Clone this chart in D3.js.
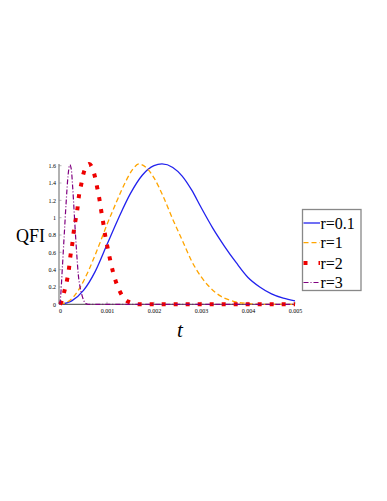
<!DOCTYPE html>
<html>
<head>
<meta charset="utf-8">
<script src="https://cdn.jsdelivr.net/npm/d3@7"></script>
<style>
  body { margin: 0; background: #fff; }
  svg { display: block; }
  text { font-family: "Liberation Serif", "Times New Roman", serif; fill: #000; }
</style>
</head>
<body>
<svg id="chart" width="387" height="501"></svg>
<script>
// t in units of 1e-3, QFI
var tR01 = [0, 0.25, 0.5, 0.75, 1.0, 1.25, 1.5, 1.75, 2.0, 2.17, 2.4, 2.6, 2.8, 3.0, 3.25, 3.5, 3.75, 4.0, 4.25, 4.5, 4.75, 5.0];
var qR01 = [0, 0.04, 0.16, 0.38, 0.69, 1.0, 1.28, 1.49, 1.60, 1.62, 1.58, 1.48, 1.32, 1.12, 0.88, 0.67, 0.48, 0.31, 0.20, 0.12, 0.07, 0.04];

var tR1 = [0, 0.2, 0.4, 0.6, 0.8, 1.0, 1.2, 1.4, 1.55, 1.68, 1.85, 2.0, 2.2, 2.4, 2.6, 2.8, 3.0, 3.2, 3.4, 3.6, 3.8, 4.0, 4.2, 5.0];
var qR1 = [0, 0.04, 0.17, 0.38, 0.64, 0.92, 1.18, 1.42, 1.56, 1.62, 1.57, 1.46, 1.24, 0.98, 0.74, 0.50, 0.32, 0.19, 0.10, 0.05, 0.02, 0.01, 0, 0];

var tR2 = [0, 0.04, 0.09, 0.15, 0.19, 0.22, 0.26, 0.29, 0.33, 0.37, 0.40, 0.45, 0.50, 0.56, 0.62, 0.69, 0.74, 0.79, 0.84, 0.88, 0.92, 0.96, 1.01, 1.06, 1.12, 1.19, 1.29, 1.45, 1.7, 5.0];
var qR2 = [0, 0.04, 0.145, 0.28, 0.41, 0.55, 0.69, 0.83, 0.97, 1.10, 1.24, 1.38, 1.51, 1.59, 1.62, 1.57, 1.48, 1.35, 1.21, 1.07, 0.94, 0.80, 0.66, 0.53, 0.39, 0.26, 0.13, 0.03, 0, 0];

var tR3 = [0, 0.015, 0.05, 0.09, 0.13, 0.17, 0.21, 0.24, 0.27, 0.30, 0.33, 0.36, 0.39, 0.43, 0.46, 0.5, 0.55, 0.6, 5.0];
var qR3 = [0, 0.1, 0.42, 0.80, 1.17, 1.48, 1.61, 1.56, 1.35, 1.08, 0.80, 0.55, 0.34, 0.19, 0.12, 0.05, 0.01, 0, 0];

var xTicks = [0, 0.001, 0.002, 0.003, 0.004, 0.005];
var yTicks = [0, 0.2, 0.4, 0.6, 0.8, 1, 1.2, 1.4, 1.6];
var labels = ['r=0.1', 'r=1', 'r=2', 'r=3'];

var series = [
    { name: labels[0], t: tR01, q: qR01, color: '#2222ee', width: 1.3, dash: null, cap: 'butt' },
    { name: labels[1], t: tR1, q: qR1, color: '#ffa500', width: 1.3, dash: '5,3', cap: 'butt' },
    { name: labels[2], t: tR2, q: qR2, color: '#ee0000', width: 4, dash: '4,8', cap: 'butt' },
    { name: labels[3], t: tR3, q: qR3, color: '#800080', width: 1.2, dash: '5,2,1,2', cap: 'butt' }
];

var svg = d3.select('#chart');

var x = d3.scaleLinear().domain([0, 0.005]).range([60, 295]);
var y = d3.scaleLinear().domain([0, 1.6]).range([304.3, 165.7]);

// axes, drawn Mathematica-like: thin gray lines, small inward ticks
var xAxis = d3.axisBottom(x).tickValues(xTicks).tickSize(0).tickPadding(4)
    .tickFormat(function(d) { return d === 0 ? '0' : d3.format('.3f')(d); });
var yAxis = d3.axisLeft(y).tickValues(yTicks).tickSize(0).tickPadding(4)
    .tickFormat(function(d) { return String(d); });

var gx = svg.append('g')
    .attr('transform', 'translate(0,' + y(0) + ')')
    .call(xAxis);
var gy = svg.append('g')
    .attr('transform', 'translate(' + x(0) + ',0)')
    .call(yAxis);

[gx, gy].forEach(function(g) {
    g.select('.domain').remove();
    g.selectAll('text')
        .style('font-family', '"Liberation Serif", serif')
        .style('font-size', '6px')
        .attr('fill', '#000');
});

svg.append('line')
    .attr('x1', x(0) - 1).attr('x2', x(0) - 1)
    .attr('y1', y(1.62)).attr('y2', y(0))
    .attr('stroke', '#888').attr('stroke-width', 1.3);
svg.append('line')
    .attr('x1', x(0) - 1).attr('x2', x(0.005))
    .attr('y1', y(0)).attr('y2', y(0))
    .attr('stroke', '#666').attr('stroke-width', 1.3);

svg.append('g').selectAll('line').data(xTicks).join('line')
    .attr('x1', function(d) { return x(d); }).attr('x2', function(d) { return x(d); })
    .attr('y1', y(0)).attr('y2', y(0) - 2.5)
    .attr('stroke', '#888').attr('stroke-width', 0.6);
svg.append('g').selectAll('line').data(yTicks).join('line')
    .attr('x1', x(0) - 1).attr('x2', x(0) + 1.5)
    .attr('y1', function(d) { return y(d); }).attr('y2', function(d) { return y(d); })
    .attr('stroke', '#888').attr('stroke-width', 0.6);

// curves
var line = d3.line()
    .x(function(d) { return x(d[0] / 1000); })
    .y(function(d) { return y(d[1]); })
    .curve(d3.curveMonotoneX);

series.forEach(function(s) {
    var pts = s.t.map(function(t, i) { return [t, s.q[i]]; });
    svg.append('path')
        .datum(pts)
        .attr('d', line)
        .attr('fill', 'none')
        .attr('stroke', s.color)
        .attr('stroke-width', s.width)
        .attr('stroke-dasharray', s.dash)
        .attr('stroke-linecap', s.cap);
});

// axis titles
svg.append('text')
    .attr('x', 16).attr('y', 242)
    .style('font-size', '18px')
    .text('QFI');
svg.append('text')
    .attr('x', 177).attr('y', 337)
    .style('font-size', '21px')
    .style('font-style', 'italic')
    .text('t');

// legend
var lg = svg.append('g');
lg.append('rect')
    .attr('x', 302.5).attr('y', 209.5)
    .attr('width', 58.5).attr('height', 81)
    .attr('fill', '#fff')
    .attr('stroke', '#888')
    .attr('stroke-width', 1.3);

var rowY = [223, 242.7, 263, 282.5];
series.forEach(function(s, i) {
    lg.append('line')
        .attr('x1', 303.5).attr('x2', 320)
        .attr('y1', rowY[i]).attr('y2', rowY[i])
        .attr('stroke', s.color)
        .attr('stroke-width', s.width)
        .attr('stroke-dasharray', i === 2 ? '4,11' : s.dash);
    lg.append('text')
        .attr('x', 320.5).attr('y', rowY[i] + 5.5)
        .style('font-size', '16px')
        .text(s.name);
});
</script>
</body>
</html>
